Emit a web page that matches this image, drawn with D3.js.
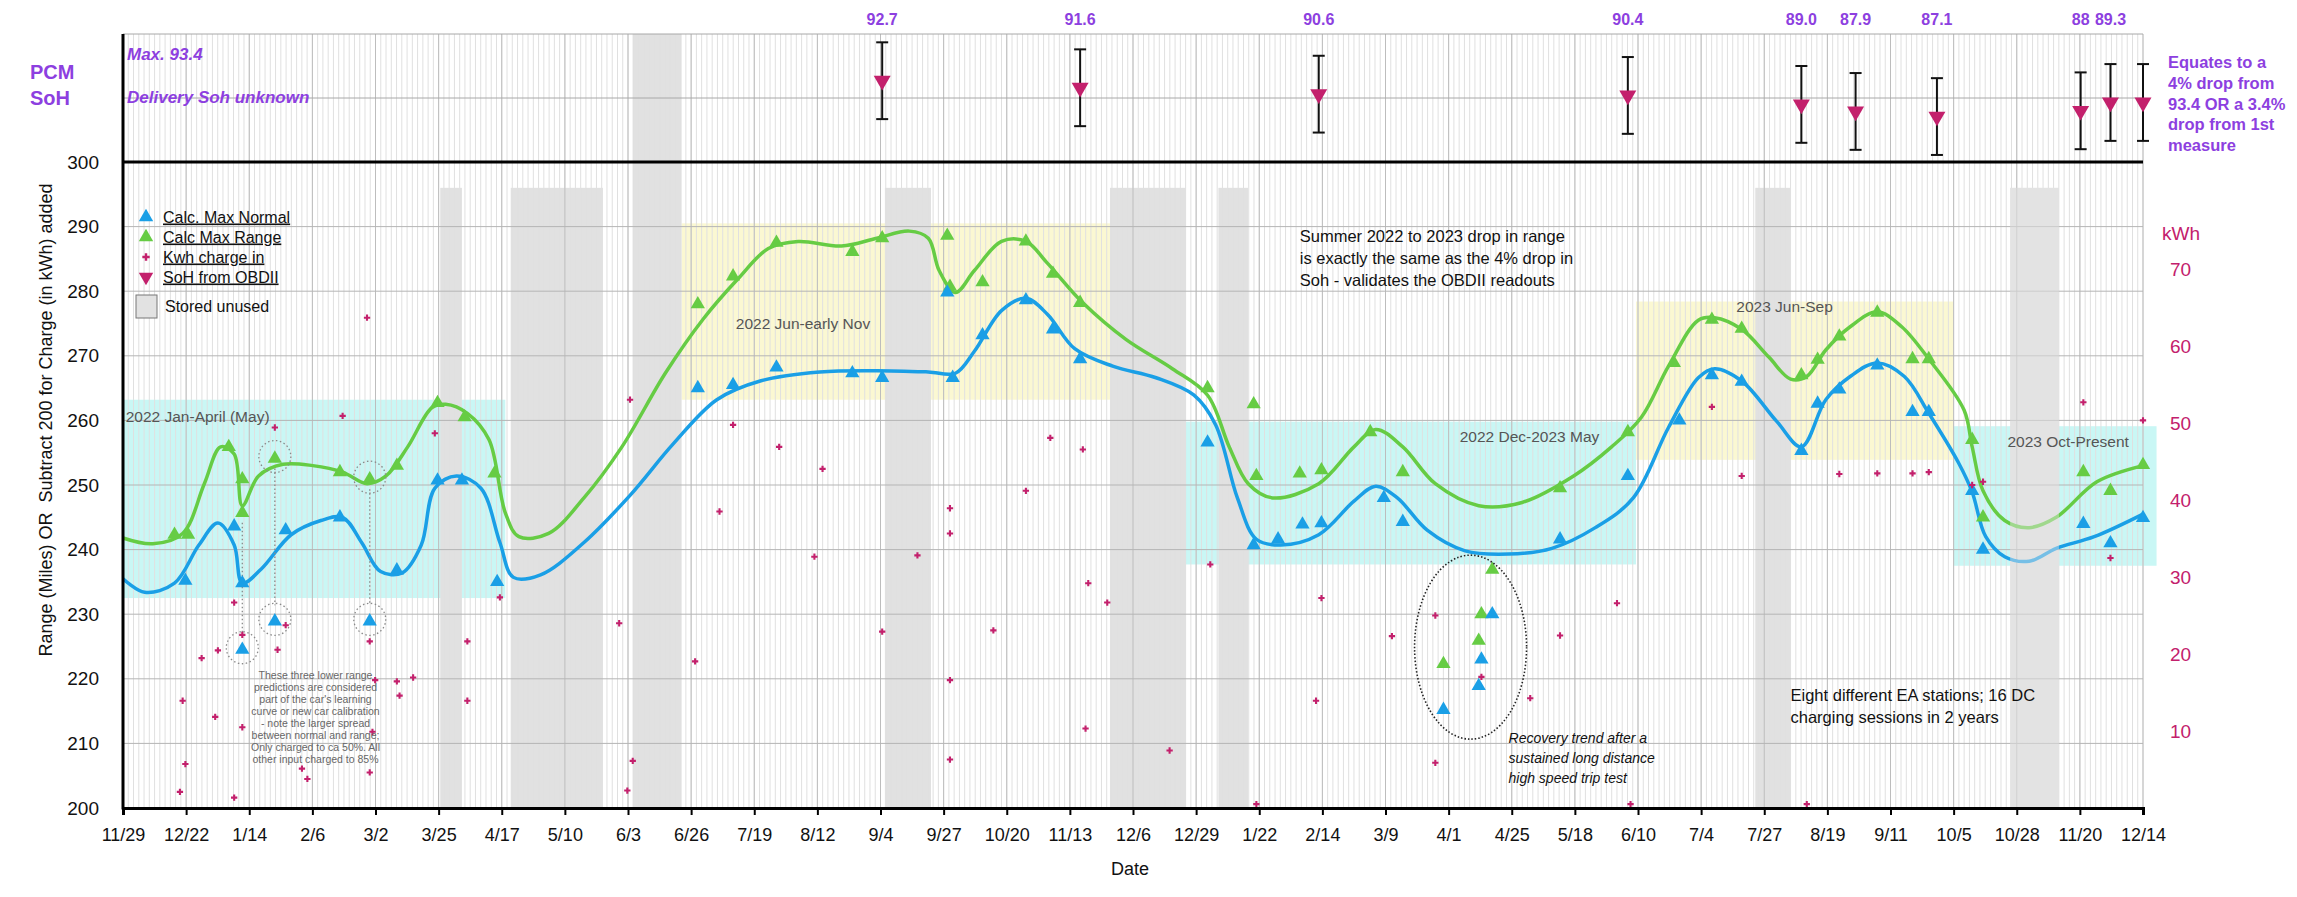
<!DOCTYPE html>
<html>
<head>
<meta charset="utf-8">
<script src="https://cdn.jsdelivr.net/npm/d3@7"></script>
<style>
  body { margin: 0; background: #fff; }
  svg { font-family: "Liberation Sans", Arial, Helvetica, sans-serif; }
</style>
</head>
<body>
<svg id="chart" width="2297" height="897"></svg>
<script>
// ---- data ----
const tickLabels = ["11/29","12/22","1/14","2/6","3/2","3/25","4/17","5/10","6/3","6/26","7/19","8/12",
  "9/4","9/27","10/20","11/13","12/6","12/29","1/22","2/14","3/9","4/1","4/25","5/18","6/10","7/4",
  "7/27","8/19","9/11","10/5","10/28","11/20","12/14"];

// smoothed trend of "Calc. Max Normal" (miles)
const normalCurve = [["2021-11-29",235.5],["2021-12-07",233.4],["2021-12-18",234.8],["2021-12-27",240.7],
  ["2022-01-03",244.1],["2022-01-09",240.7],["2022-01-12",234.8],["2022-01-19",237.0],["2022-01-30",242.3],
  ["2022-02-10",244.5],["2022-02-18",245.0],["2022-02-25",241.1],["2022-03-04",236.6],["2022-03-12",236.4],
  ["2022-03-19",240.7],["2022-03-24",249.5],["2022-04-01",251.4],["2022-04-10",249.5],["2022-04-17",241.1],
  ["2022-04-22",235.7],["2022-05-02",236.1],["2022-05-18",241.1],["2022-06-04",248.4],["2022-06-20",256.4],
  ["2022-07-06",263.2],["2022-07-22",266.1],["2022-08-13",267.5],["2022-09-03",267.7],["2022-09-22",267.5],
  ["2022-10-02",267.3],["2022-10-09",270.7],["2022-10-19",277.0],["2022-10-28",278.9],["2022-11-05",276.4],
  ["2022-11-15",271.1],["2022-11-29",268.4],["2022-12-15",266.6],["2022-12-29",263.9],["2023-01-06",259.3],
  ["2023-01-14",248.0],["2023-01-21",241.6],["2023-01-30",240.7],["2023-02-13",242.3],["2023-02-26",247.5],
  ["2023-03-06",249.8],["2023-03-14",248.0],["2023-03-25",243.0],["2023-04-08",239.8],["2023-04-24",239.3],
  ["2023-05-10",240.2],["2023-05-26",243.4],["2023-06-09",248.0],["2023-06-22",258.9],["2023-07-03",266.6],
  ["2023-07-09",268.0],["2023-07-19",266.1],["2023-08-01",259.8],["2023-08-10",255.9],["2023-08-19",263.2],
  ["2023-08-28",266.8],["2023-09-07",268.9],["2023-09-17",266.8],["2023-09-26",261.1],["2023-10-07",253.4],
  ["2023-10-12",248.9],["2023-10-17",242.0],["2023-10-24",238.9],["2023-11-02",238.2],["2023-11-12",240.2],
  ["2023-11-26",242.0],["2023-12-14",245.5]];

// smoothed trend of "Calc Max Range" (miles)
const rangeCurve = [["2021-11-29",241.8],["2021-12-10",240.9],["2021-12-21",242.5],["2021-12-29",250.2],
  ["2022-01-04",255.9],["2022-01-09",254.8],["2022-01-12",246.8],["2022-01-18",251.4],["2022-01-27",253.2],
  ["2022-02-07",253.0],["2022-02-18",252.0],["2022-02-27",250.2],["2022-03-06",251.4],["2022-03-14",255.9],
  ["2022-03-23",262.0],["2022-03-28",262.5],["2022-04-05",261.1],["2022-04-13",257.0],["2022-04-19",245.7],
  ["2022-04-24",242.0],["2022-05-05",242.5],["2022-05-18",248.0],["2022-06-01",255.9],["2022-06-17",267.3],
  ["2022-07-01",275.7],["2022-07-14",282.0],["2022-07-25",286.6],["2022-08-05",287.7],["2022-08-21",287.0],
  ["2022-09-03",288.2],["2022-09-15",289.3],["2022-09-22",288.2],["2022-09-26",283.2],["2022-10-02",279.8],
  ["2022-10-09",283.2],["2022-10-19",287.7],["2022-10-28",287.7],["2022-11-05",284.3],["2022-11-18",278.2],
  ["2022-12-04",272.5],["2022-12-21",268.0],["2023-01-03",263.9],["2023-01-11",255.9],["2023-01-18",250.2],
  ["2023-01-27",248.0],["2023-02-13",250.2],["2023-02-26",255.9],["2023-03-06",258.6],["2023-03-16",255.9],
  ["2023-03-28",250.2],["2023-04-13",246.8],["2023-04-29",247.3],["2023-05-18",251.4],["2023-06-01",255.9],
  ["2023-06-12",260.5],["2023-06-22",268.4],["2023-07-03",275.5],["2023-07-09",275.9],["2023-07-19",274.1],
  ["2023-07-29",269.8],["2023-08-06",266.4],["2023-08-12",266.8],["2023-08-19",270.9],["2023-08-28",274.5],
  ["2023-09-07",276.8],["2023-09-16",274.5],["2023-09-26",269.5],["2023-10-09",261.6],["2023-10-12",255.9],
  ["2023-10-16",249.1],["2023-10-24",244.5],["2023-11-02",243.4],["2023-11-12",245.0],["2023-11-27",250.5],
  ["2023-12-14",253.0]];

// individual readings
const normalPts = [["2021-12-22",235.2],["2022-01-09",243.6],["2022-01-12",234.8],["2022-01-12",224.5],
  ["2022-01-24",228.9],["2022-01-28",243.0],["2022-02-17",245.0],["2022-02-28",228.9],["2022-03-10",236.8],
  ["2022-03-25",250.7],["2022-04-03",250.7],["2022-04-16",235.0],["2022-06-29",265.0],["2022-07-12",265.5],
  ["2022-07-28",268.2],["2022-08-25",267.3],["2022-09-05",266.6],["2022-09-29",279.8],["2022-10-01",266.6],
  ["2022-10-12",273.2],["2022-10-28",278.6],["2022-11-07",274.1],["2022-11-17",269.5],["2023-01-03",256.6],
  ["2023-01-20",240.7],["2023-01-29",241.6],["2023-02-07",243.9],["2023-02-14",244.1],["2023-03-09",248.0],
  ["2023-03-16",244.3],["2023-04-18",230.0],["2023-04-14",223.0],["2023-04-13",218.9],["2023-03-31",215.2],
  ["2023-05-13",241.6],["2023-06-07",251.4],["2023-06-26",260.0],["2023-07-08",267.0],["2023-07-19",266.0],
  ["2023-08-10",255.3],["2023-08-16",262.6],["2023-08-24",264.8],["2023-09-07",268.5],["2023-09-20",261.3],
  ["2023-09-26",261.3],["2023-10-12",249.1],["2023-10-16",240.0],["2023-11-22",244.0],["2023-12-02",241.0],
  ["2023-12-14",244.9]];

const rangePts = [["2021-12-18",242.3],["2021-12-23",242.3],["2022-01-07",255.9],["2022-01-12",250.9],
  ["2022-01-12",245.7],["2022-01-24",254.1],["2022-02-17",252.0],["2022-02-28",250.9],["2022-03-10",253.0],
  ["2022-03-25",262.7],["2022-04-04",260.5],["2022-04-15",251.8],["2022-06-29",278.0],["2022-07-12",282.3],
  ["2022-07-28",287.5],["2022-08-25",286.1],["2022-09-05",288.2],["2022-09-29",288.6],["2022-09-30",280.7],
  ["2022-10-12",281.4],["2022-10-28",287.7],["2022-11-07",282.7],["2022-11-17",278.2],["2023-01-03",265.0],
  ["2023-01-20",262.5],["2023-01-21",251.4],["2023-02-06",251.8],["2023-02-14",252.3],["2023-03-04",258.2],
  ["2023-03-16",252.0],["2023-05-13",249.5],["2023-06-07",258.2],["2023-04-18",236.9],["2023-04-14",230.0],
  ["2023-04-13",225.9],["2023-03-31",222.3],["2023-06-24",268.9],["2023-07-08",275.6],["2023-07-19",274.2],
  ["2023-08-10",267.0],["2023-08-16",269.4],["2023-08-24",273.0],["2023-09-07",276.7],["2023-09-20",269.5],
  ["2023-09-26",269.5],["2023-10-12",257.0],["2023-10-16",245.0],["2023-11-22",252.0],["2023-12-02",249.1],
  ["2023-12-14",253.1]];

// kWh charged in (plotted as 200 + kWh on the left axis)
const kwhPts = [["2021-12-20",2.5],["2021-12-22",6.8],["2021-12-21",16.6],["2021-12-28",23.2],["2022-01-03",24.4],
  ["2022-01-02",14.1],["2022-01-09",1.6],["2022-01-09",31.8],["2022-01-12",26.8],["2022-01-12",12.5],
  ["2022-01-25",24.5],["2022-01-28",28.3],["2022-01-24",58.9],["2022-02-03",6.1],["2022-02-05",4.5],
  ["2022-02-18",60.7],["2022-02-27",75.9],["2022-02-28",25.8],["2022-03-01",11.8],["2022-03-02",19.8],
  ["2022-02-28",5.5],["2022-03-10",19.6],["2022-03-11",17.4],["2022-03-16",20.2],["2022-03-24",58.0],
  ["2022-04-05",25.8],["2022-04-05",16.6],["2022-04-17",32.6],["2022-05-31",28.6],["2022-06-04",63.2],
  ["2022-06-05",7.3],["2022-06-03",2.7],["2022-06-28",22.7],["2022-07-07",45.9],["2022-07-12",59.3],
  ["2022-07-29",55.9],["2022-08-11",38.9],["2022-08-14",52.5],["2022-09-05",27.3],["2022-09-18",39.1],
  ["2022-09-30",46.4],["2022-09-30",42.5],["2022-09-30",19.8],["2022-09-30",7.5],["2022-10-16",27.5],
  ["2022-10-28",49.1],["2022-11-06",57.3],["2022-11-18",55.5],["2022-11-19",12.3],["2022-11-20",34.8],
  ["2022-11-27",31.8],["2022-12-20",8.9],["2023-01-04",37.7],["2023-01-21",0.6],["2023-02-12",16.6],
  ["2023-02-14",32.5],["2023-03-12",26.6],["2023-03-28",29.8],["2023-03-28",7.0],["2023-04-14",20.3],
  ["2023-05-02",17.0],["2023-05-13",26.7],["2023-06-03",31.7],["2023-06-08",0.6],["2023-07-08",62.1],
  ["2023-07-19",51.4],["2023-08-12",0.6],["2023-08-24",51.7],["2023-09-07",51.8],["2023-09-20",51.8],
  ["2023-09-26",52.0],["2023-10-12",50.0],["2023-10-16",50.5],["2023-11-22",62.8],["2023-12-02",38.7],
  ["2023-12-14",60.0]];

// SoH from OBDII (%), error bar +/- 6; the last reading carries no label
const sohDates  = ["2022-09-05","2022-11-17","2023-02-13","2023-06-07","2023-08-10","2023-08-30",
  "2023-09-29","2023-11-21","2023-12-02","2023-12-14"];
const sohValues = [92.7, 91.6, 90.6, 90.4, 89.0, 87.9, 87.1, 88, 89.3, 89.3];
const sohLabels = ["92.7","91.6","90.6","90.4","89.0","87.9","87.1","88","89.3",""];
const sohError = 6;

// periods the car was stored unused; the third one spans the SoH panel too
const storedBands = [["2022-03-26","2022-04-03",false],["2022-04-21","2022-05-25",false],
  ["2022-06-05","2022-06-23",true],["2022-09-06","2022-09-23",false],["2022-11-28","2022-12-26",false],
  ["2023-01-07","2023-01-18",false],["2023-07-24","2023-08-06",false],["2023-10-26","2023-11-13",false]];

// seasonal highlight boxes: label, from, to, low, high, kind, label anchor (date, value)
const seasons = [
  ["2022 Jan-April (May)","2021-11-29","2022-04-19",232.5,263.2,"cold","2021-11-30",260.6],
  ["2022 Jun-early Nov","2022-06-23","2022-11-28",263.2,290.5,"warm","2022-07-13",275.0],
  ["2022 Dec-2023 May","2022-12-26","2023-06-10",237.7,259.8,"cold","2023-04-06",257.5],
  ["2023 Jun-Sep","2023-06-10","2023-10-05",253.9,278.4,"warm","2023-07-17",277.5],
  ["2023 Oct-Present","2023-10-05","2023-12-19",237.5,259.1,"cold","2023-10-25",256.6]];

// early low predictions (normal / range pairs that are circled)
const calibration = [["2022-01-12",224.5,245.7],["2022-01-24",228.9,254.1],["2022-02-28",228.9,250.9]];

// ---- layout ----
const svg = d3.select("#chart");
const L = 123, R = 2143, T = 34, MT = 162, B = 808;
const parse = d3.timeParse("%Y-%m-%d");
const start = parse("2021-11-29"), end = parse("2023-12-14");

const x = d3.scaleTime().domain([start, end]).range([L, R]);
const y = d3.scaleLinear().domain([200, 300]).range([B, MT]);
const yKwh = d3.scaleLinear().domain([0, 84]).range([B, MT]);
const ySoh = d3.scaleLinear().domain([80, 100]).range([MT, T]);

const nInt = tickLabels.length - 1;
const tickDates = d3.range(nInt + 1).map(i => new Date(+start + i * (end - start) / nInt));
const minorDates = d3.range(nInt * 12 + 1).map(i => new Date(+start + i * (end - start) / (nInt * 12)));

const purple = "#8d3fe0", magenta = "#c3206c", blue = "#1a9fe6", green = "#66cc44";

// season boxes
svg.append("g").selectAll("rect").data(seasons).join("rect")
  .attr("x", d => x(parse(d[1])))
  .attr("width", d => x(parse(d[2])) - x(parse(d[1])))
  .attr("y", d => y(d[4]))
  .attr("height", d => y(d[3]) - y(d[4]))
  .attr("fill", d => d[5] === "cold" ? "#c9f7f5" : "#fbf8d2");

// stored unused bands
svg.append("g").selectAll("rect").data(storedBands).join("rect")
  .attr("x", d => x(parse(d[0])))
  .attr("width", d => x(parse(d[1])) - x(parse(d[0])))
  .attr("y", d => d[2] ? T : y(296))
  .attr("height", d => d[2] ? B - T : B - y(296))
  .attr("fill", "#e1e1e1");

// grid
const grid = svg.append("g");
grid.selectAll("line.minor").data(minorDates).join("line")
  .attr("x1", d => x(d)).attr("x2", d => x(d)).attr("y1", T).attr("y2", B)
  .attr("stroke", "#e0e0e0").attr("stroke-width", 1);
grid.selectAll("line.major").data(tickDates).join("line")
  .attr("x1", d => x(d)).attr("x2", d => x(d)).attr("y1", T).attr("y2", B)
  .attr("stroke", "#bdbdbd").attr("stroke-width", 1);
grid.selectAll("line.h").data(d3.range(210, 300, 10)).join("line")
  .attr("x1", L).attr("x2", R).attr("y1", d => y(d)).attr("y2", d => y(d))
  .attr("stroke", "#b5b5b5").attr("stroke-width", 1);
// SoH panel lines
grid.selectAll("line.s").data([100, 90]).join("line")
  .attr("x1", L).attr("x2", R).attr("y1", d => ySoh(d)).attr("y2", d => ySoh(d))
  .attr("stroke", "#a8a8a8").attr("stroke-width", 1);

// trend curves
const line = d3.line()
  .x(d => x(parse(d[0])))
  .y(d => y(d[1]))
  .curve(d3.curveCatmullRom.alpha(0.5));

svg.append("path").datum(normalCurve).attr("d", line)
  .attr("fill", "none").attr("stroke", blue).attr("stroke-width", 3.5);
svg.append("path").datum(rangeCurve).attr("d", line)
  .attr("fill", "none").attr("stroke", green).attr("stroke-width", 3.5);

// last stored period fades the curves
const lastBand = storedBands[storedBands.length - 1];
svg.append("rect")
  .attr("x", x(parse(lastBand[0])))
  .attr("width", x(parse(lastBand[1])) - x(parse(lastBand[0])))
  .attr("y", y(296)).attr("height", B - y(296))
  .attr("fill", "#e6e6e6").attr("opacity", 0.45);

// calibration annotations (dotted)
const cal = svg.append("g").attr("fill", "none").attr("stroke", "#8a8a8a")
  .attr("stroke-width", 1.3).attr("stroke-dasharray", "1.5,2.5");
calibration.forEach(d => {
  const cx = x(parse(d[0]));
  cal.append("line").attr("x1", cx).attr("x2", cx).attr("y1", y(d[2]) + 10).attr("y2", y(d[1]) - 16);
  cal.append("circle").attr("cx", cx).attr("cy", y(d[1]) - 2).attr("r", 16);
});
calibration.slice(1).forEach(d => {
  cal.append("circle").attr("cx", x(parse(d[0]))).attr("cy", y(d[2]) - 2).attr("r", 16);
});

// markers
const tri = d3.symbol(d3.symbolTriangle, 88);
svg.append("g").selectAll("path").data(rangePts).join("path")
  .attr("d", tri).attr("fill", green)
  .attr("transform", d => `translate(${x(parse(d[0]))},${y(d[1])})`);
svg.append("g").selectAll("path").data(normalPts).join("path")
  .attr("d", tri).attr("fill", blue)
  .attr("transform", d => `translate(${x(parse(d[0]))},${y(d[1])})`);

const plus = d3.symbol(d3.symbolCross, 22);
svg.append("g").selectAll("path").data(kwhPts).join("path")
  .attr("d", plus).attr("fill", magenta)
  .attr("transform", d => `translate(${x(parse(d[0]))},${y(200 + d[1])})`);

// oval around the recovery readings
svg.append("ellipse")
  .attr("cx", x(parse("2023-04-10"))).attr("cy", y(224.9))
  .attr("rx", 56).attr("ry", 92)
  .attr("fill", "none").attr("stroke", "#222").attr("stroke-width", 1.6)
  .attr("stroke-dasharray", "1.5,2");

// SoH panel: error bars + markers + labels
const soh = svg.append("g");
sohDates.forEach((dt, i) => {
  const cx = x(parse(dt));
  const v = sohValues[i];
  soh.append("line").attr("x1", cx).attr("x2", cx)
    .attr("y1", ySoh(v + sohError)).attr("y2", ySoh(v - sohError))
    .attr("stroke", "#111").attr("stroke-width", 2);
  [v + sohError, v - sohError].forEach(e => {
    soh.append("line").attr("x1", cx - 6).attr("x2", cx + 6)
      .attr("y1", ySoh(e)).attr("y2", ySoh(e))
      .attr("stroke", "#111").attr("stroke-width", 2);
  });
  soh.append("path").attr("d", d3.symbol(d3.symbolTriangle, 125))
    .attr("fill", magenta)
    .attr("transform", `translate(${cx},${ySoh(v)}) rotate(180)`);
  soh.append("text").attr("x", cx).attr("y", 25)
    .attr("text-anchor", "middle").attr("fill", purple)
    .style("font-size", "16px").style("font-weight", "bold")
    .text(sohLabels[i]);
});

// axes frame
svg.append("line").attr("x1", L).attr("x2", R).attr("y1", MT).attr("y2", MT)
  .attr("stroke", "#000").attr("stroke-width", 3);
svg.append("line").attr("x1", L).attr("x2", L).attr("y1", T).attr("y2", B + 1.5)
  .attr("stroke", "#000").attr("stroke-width", 3);

const xAxis = svg.append("g").attr("transform", `translate(0,${B})`)
  .call(d3.axisBottom(x).tickValues(tickDates).tickFormat((d, i) => tickLabels[i]).tickSize(7).tickPadding(13));
xAxis.select(".domain").attr("stroke", "#000").attr("stroke-width", 3);
xAxis.selectAll(".tick line").attr("stroke", "#000").attr("stroke-width", 2);
xAxis.selectAll("text").style("font-size", "18px").attr("fill", "#111")
  .style("font-family", "'Liberation Sans', Arial, sans-serif");

const yAxis = svg.append("g").attr("transform", `translate(${L},0)`)
  .call(d3.axisLeft(y).tickValues(d3.range(200, 301, 10)).tickSize(0).tickPadding(24));
yAxis.select(".domain").remove();
yAxis.selectAll("text").style("font-size", "19px").attr("fill", "#111")
  .style("font-family", "'Liberation Sans', Arial, sans-serif");

const kAxis = svg.append("g").attr("transform", `translate(${R + 27},0)`)
  .call(d3.axisRight(yKwh).tickValues(d3.range(10, 71, 10)).tickSize(0).tickPadding(0));
kAxis.select(".domain").remove();
kAxis.selectAll("text").style("font-size", "19px").attr("fill", magenta)
  .style("font-family", "'Liberation Sans', Arial, sans-serif");
svg.append("text").attr("x", R + 19).attr("y", 240).attr("fill", magenta)
  .style("font-size", "19px").text("kWh");

// axis titles
svg.append("text").attr("x", 1130).attr("y", 875).attr("text-anchor", "middle")
  .style("font-size", "18px").attr("fill", "#111").text("Date");
svg.append("text").attr("transform", "translate(52,420) rotate(-90)")
  .attr("text-anchor", "middle").style("font-size", "18px").attr("fill", "#111")
  .attr("xml:space", "preserve")
  .text("Range (Miles) OR  Subtract 200 for Charge (in kWh) added");

// SoH panel titles
svg.append("text").attr("x", 30).attr("y", 79).attr("fill", purple)
  .style("font-size", "20px").style("font-weight", "bold").text("PCM");
svg.append("text").attr("x", 30).attr("y", 105).attr("fill", purple)
  .style("font-size", "20px").style("font-weight", "bold").text("SoH");
svg.append("text").attr("x", 127).attr("y", 60).attr("fill", purple)
  .style("font-size", "17px").style("font-weight", "bold").style("font-style", "italic").text("Max. 93.4");
svg.append("text").attr("x", 127).attr("y", 103).attr("fill", purple)
  .style("font-size", "17px").style("font-weight", "bold").style("font-style", "italic").text("Delivery Soh unknown");
["Equates to a", "4% drop from", "93.4 OR a 3.4%", "drop from 1st", "measure"].forEach((t, i) => {
  svg.append("text").attr("x", 2168).attr("y", 68 + i * 20.8).attr("fill", purple)
    .style("font-size", "16.5px").style("font-weight", "bold").text(t);
});

// season labels
svg.append("g").selectAll("text").data(seasons).join("text")
  .attr("x", d => x(parse(d[6]))).attr("y", d => y(d[7]) + 5)
  .attr("fill", "#555").style("font-size", "15.5px").text(d => d[0]);

// notes
const note = (lines, dt, v, opts) => {
  const t = svg.append("text").attr("fill", opts.color || "#111")
    .attr("text-anchor", opts.anchor || "start")
    .style("font-size", opts.size + "px").style("font-style", opts.italic ? "italic" : "normal");
  lines.forEach((s, i) => t.append("tspan").attr("x", x(parse(dt))).attr("y", y(v) + i * opts.lh).text(s));
};
note(["Summer 2022 to 2023 drop in range", "is exactly the same as the 4% drop in", "Soh - validates the OBDII readouts"],
  "2023-02-06", 287.6, { size: 16.5, lh: 22 });
note(["Eight different EA stations; 16 DC", "charging sessions in 2 years"],
  "2023-08-06", 216.6, { size: 16.5, lh: 22 });
note(["Recovery trend after a", "sustained long distance", "high speed trip test"],
  "2023-04-24", 210.0, { size: 14, lh: 20, italic: true });
note(["These three lower range", "predictions are considered", "part of the car's learning",
  "curve or new car calibration", "- note the larger spread", "between normal and range;",
  "Only charged to ca 50%. All", "other input charged to 85%"],
  "2022-02-08", 219.9, { size: 10.5, lh: 12, color: "#666", anchor: "middle" });

// legend
const legend = svg.append("g");
const legendItems = [["Calc. Max Normal", blue, "up"], ["Calc Max Range", green, "up"],
  ["Kwh charge in", magenta, "plus"], ["SoH from OBDII", magenta, "down"]];
legendItems.forEach((d, i) => {
  const cy = 217 + i * 20;
  const sym = d[2] === "plus" ? d3.symbol(d3.symbolCross, 30) : d3.symbol(d3.symbolTriangle, 90);
  legend.append("path").attr("d", sym).attr("fill", d[1])
    .attr("transform", `translate(146,${cy})${d[2] === "down" ? " rotate(180)" : ""}`);
  legend.append("text").attr("x", 163).attr("y", cy + 5.5)
    .style("font-size", "16px").style("text-decoration", "underline").attr("fill", "#111").text(d[0]);
});
legend.append("rect").attr("x", 136).attr("y", 295).attr("width", 21).attr("height", 23)
  .attr("fill", "#e2e2e2").attr("stroke", "#777").attr("stroke-width", 1);
legend.append("text").attr("x", 165).attr("y", 312).style("font-size", "16px")
  .attr("fill", "#111").text("Stored unused");
</script>
</body>
</html>
